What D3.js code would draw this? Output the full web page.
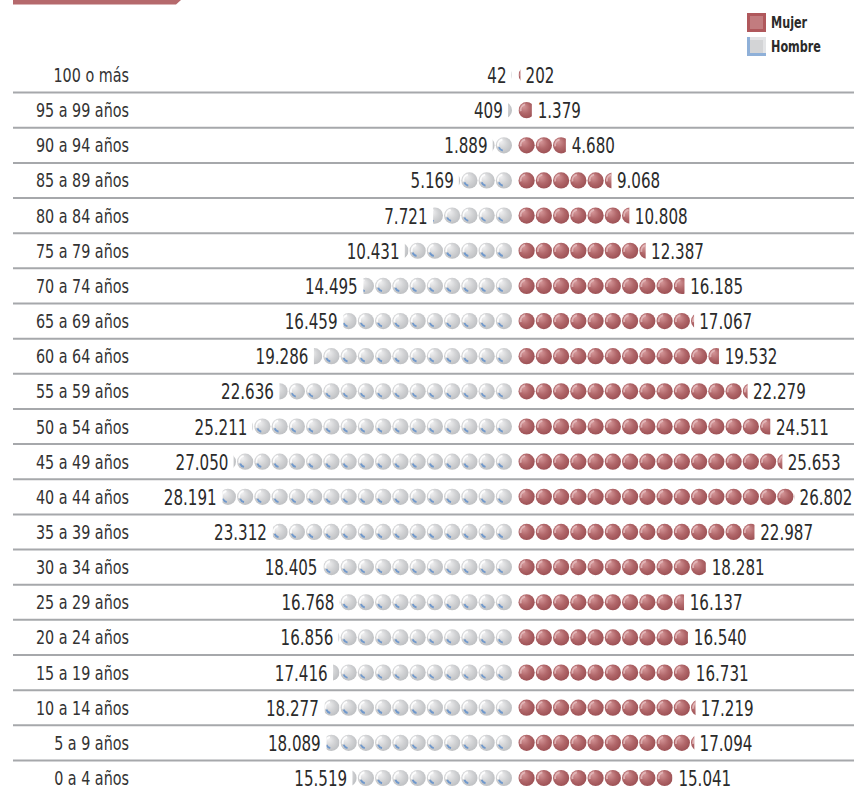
<!DOCTYPE html>
<html><head><meta charset="utf-8">
<script src="https://cdn.jsdelivr.net/npm/d3@7"></script>
<style>
html,body{margin:0;padding:0;background:#fff;}
svg{display:block;}
text{font-family:"DejaVu Sans Condensed","Liberation Sans Narrow","DejaVu Sans",sans-serif;}
</style></head>
<body>
<script>
// ---- data ----
const ageGroups = ["100 o más","95 a 99 años","90 a 94 años","85 a 89 años","80 a 84 años","75 a 79 años","70 a 74 años","65 a 69 años","60 a 64 años","55 a 59 años","50 a 54 años","45 a 49 años","40 a 44 años","35 a 39 años","30 a 34 años","25 a 29 años","20 a 24 años","15 a 19 años","10 a 14 años","5 a 9 años","0 a 4 años"];
const hombres = [42,409,1889,5169,7721,10431,14495,16459,19286,22636,25211,27050,28191,23312,18405,16768,16856,17416,18277,18089,15519];
const mujeres = [202,1379,4680,9068,10808,12387,16185,17067,19532,22279,24511,25653,26802,22987,18281,16137,16540,16731,17219,17094,15041];
const seriesNames = ["Mujer","Hombre"];
const personsPerIcon = 1675;

const W = 854, H = 796;
const svg = d3.select("body").append("svg").attr("width", W).attr("height", H);
const defs = svg.append("defs");

function radial(id, c0, c1, c2){
  const g = defs.append("radialGradient").attr("id", id).attr("cx","45%").attr("cy","45%").attr("r","60%").attr("fx","30%").attr("fy","25%");
  g.append("stop").attr("offset","0%").attr("stop-color",c0);
  g.append("stop").attr("offset","55%").attr("stop-color",c1);
  g.append("stop").attr("offset","100%").attr("stop-color",c2);
}
radial("gRed", "#d79a9c", "#b2686b", "#9a4e52");
radial("gGray", "#f2f2f3", "#d2d3d5", "#bcbec1");

// narrow text helper
function ntext(parent, x, yy, str, opts){
  const t = parent.append("text")
    .attr("transform", `translate(${x},${yy}) scale(${opts.sx},1)`)
    .attr("text-anchor", opts.anchor || "start")
    .attr("font-size", opts.size).attr("fill", opts.fill || "#2b2b2b")
    .text(str);
  if (opts.weight) t.attr("font-weight", opts.weight);
  return t;
}

// top decorative bar
svg.append("polygon").attr("points","13,0 181,0 176,4.5 13,4.5").attr("fill","#b5696c");

const y = d3.scalePoint().domain(ageGroups).range([75, 778]);
const step = 17.25, diam = 16.2, r = diam/2;
const maleEdge = 512, femaleEdge = 518.5;
const xM = d3.scaleLinear().domain([0, personsPerIcon]).range([0, step]);
const fmt = d3.formatLocale({decimal:",", thousands:".", grouping:[3], currency:["",""]}).format(",d");

// separators
const rowGap = y.step();
svg.append("g").selectAll("line").data(ageGroups.slice(1)).join("line")
  .attr("x1", 13).attr("x2", W)
  .attr("y1", d => y(d) - rowGap/2).attr("y2", d => y(d) - rowGap/2)
  .attr("stroke", "#a6a8ab").attr("stroke-width", 2);

// labels
const lab = svg.append("g");
ageGroups.forEach(d => ntext(lab, 129, y(d) + 7, d, {anchor:"end", size:19, sx:0.84, fill:"#333"}));

let clipId = 0;
function drawBall(g, cx, cy, frac, side, female){
  const b = g.append("g");
  if (frac < 1){
    const id = "c" + (clipId++);
    const w = Math.max(0.5, frac*diam);
    const cp = defs.append("clipPath").attr("id", id);
    if (side === "left") cp.append("rect").attr("x", cx + r - w).attr("y", cy - r - 1).attr("width", w).attr("height", diam + 2);
    else cp.append("rect").attr("x", cx - r).attr("y", cy - r - 1).attr("width", w).attr("height", diam + 2);
    b.attr("clip-path", `url(#${id})`);
  }
  b.append("circle").attr("cx", cx).attr("cy", cy).attr("r", r)
    .attr("fill", female ? "url(#gRed)" : "url(#gGray)");
  const arcHi = d3.arc().innerRadius(r*0.62).outerRadius(r*0.86).startAngle(-1.75).endAngle(-0.25);
  b.append("path").attr("d", arcHi()).attr("transform", `translate(${cx},${cy})`)
    .attr("fill", female ? "#e8c4c5" : "#ffffff").attr("opacity", female ? 0.75 : 0.9);
  if (!female){
    const arcBl = d3.arc().innerRadius(r*0.55).outerRadius(r*0.78).startAngle(3.35).endAngle(4.35);
    b.append("path").attr("d", arcBl()).attr("transform", `translate(${cx},${cy})`).attr("fill", "#6f98cc");
  }
}

const rows = svg.append("g");
ageGroups.forEach((ag, i) => {
  const cy = y(ag);
  const g = rows.append("g");
  const nm = hombres[i] / personsPerIcon;
  for (let k = 0; k < Math.ceil(nm); k++){
    const frac = Math.min(1, nm - k);
    const cx = maleEdge - xM(personsPerIcon * k) - r;
    drawBall(g, cx, cy, frac, "left", false);
  }
  ntext(g, maleEdge - xM(hombres[i]) - 5, cy + 8, fmt(hombres[i]), {anchor:"end", size:21, sx:0.8});
  const nf = mujeres[i] / personsPerIcon;
  for (let k = 0; k < Math.ceil(nf); k++){
    const frac = Math.min(1, nf - k);
    const cx = femaleEdge + xM(personsPerIcon * k) + r;
    drawBall(g, cx, cy, frac, "right", true);
  }
  ntext(g, femaleEdge + xM(mujeres[i]) + 5, cy + 8, fmt(mujeres[i]), {anchor:"start", size:21, sx:0.8});
});

// legend
const leg = svg.append("g");
seriesNames.forEach((s, i) => {
  const ly = 13 + i*24;
  if (s === "Mujer"){
    leg.append("rect").attr("x", 747).attr("y", ly).attr("width", 19).attr("height", 19).attr("fill", "#b0585c");
    leg.append("rect").attr("x", 750).attr("y", ly+3).attr("width", 13).attr("height", 13).attr("fill", "#c27c7f");
  } else {
    leg.append("rect").attr("x", 747).attr("y", ly).attr("width", 19).attr("height", 19).attr("fill", "#8fb0d8");
    leg.append("rect").attr("x", 750).attr("y", ly).attr("width", 16).attr("height", 16).attr("fill", "#e3e4e6");
    leg.append("rect").attr("x", 750).attr("y", ly+3).attr("width", 13).attr("height", 13).attr("fill", "#d3d4d6");
  }
  ntext(leg, 771, ly + 15, s, {size:16, sx:0.78, weight:"bold"});
});
</script>
</body></html>
